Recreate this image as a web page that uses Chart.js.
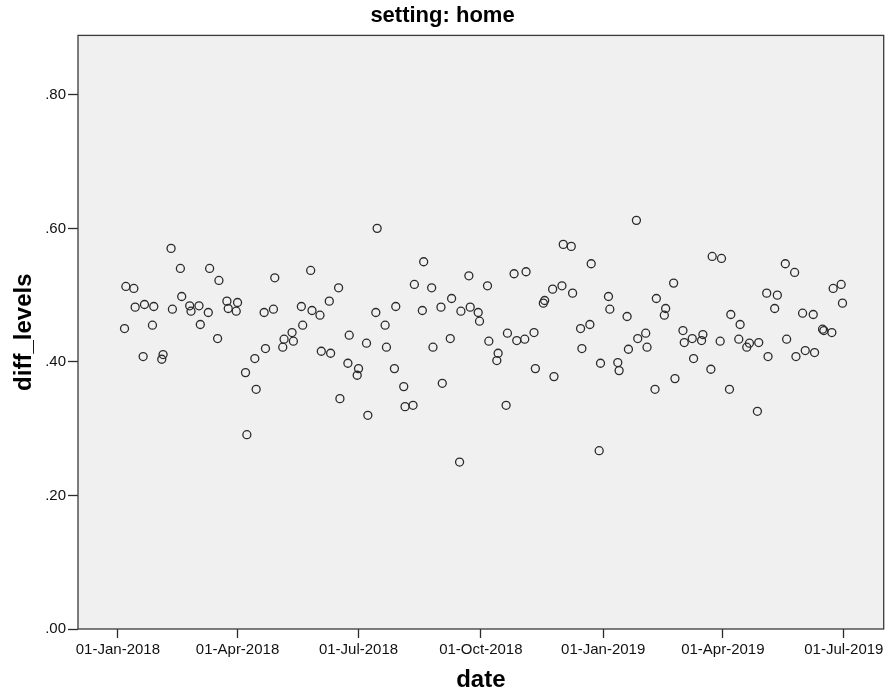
<!DOCTYPE html>
<html>
<head>
<meta charset="utf-8">
<title>setting: home</title>
<script src="https://cdn.jsdelivr.net/npm/chart.js@4/dist/chart.umd.min.js"></script>
<style>
    body { margin: 0; background: #ffffff; }
    #diffChart { display: block; }
</style>
</head>
<body>
<canvas id="diffChart" width="889" height="696"></canvas>
<script>
// days since 01-Jan-2018
const days = [
    5, 6, 12, 13, 19, 20, 26, 27, 33, 34,
    40, 41, 47, 48, 54, 55, 61, 62, 68, 69,
    75, 76, 82, 83, 89, 90, 96, 97, 103, 104,
    110, 111, 117, 118, 124, 125, 131, 132, 138, 139,
    145, 146, 152, 153, 159, 160, 166, 167, 173, 174,
    180, 181, 187, 188, 194, 195, 201, 202, 208, 209,
    215, 216, 222, 223, 229, 230, 236, 237, 243, 244,
    250, 251, 257, 258, 264, 265, 271, 272, 278, 279,
    285, 286, 292, 293, 298, 300, 306, 307, 313, 314,
    320, 321, 327, 328, 334, 335, 341, 342, 348, 349,
    355, 356, 362, 363, 369, 370, 376, 377, 383, 384,
    390, 391, 397, 398, 404, 405, 411, 412, 418, 419,
    425, 426, 432, 433, 439, 440, 446, 447, 453, 454,
    460, 461, 467, 468, 473, 475, 481, 482, 488, 489,
    494, 496, 502, 503, 509, 510, 515, 517, 523, 524,
    530, 531, 537, 538, 544, 545
];
// diff_levels
const levels = [
    .450, .513, .510, .482, .408, .486, .455, .483, .404, .411,
    .570, .479, .540, .498, .484, .476, .484, .456, .474, .540,
    .435, .522, .491, .480, .476, .489, .384, .291, .405, .359,
    .474, .420, .479, .526, .422, .434, .444, .431, .483, .455,
    .537, .477, .470, .416, .491, .413, .511, .345, .398, .440,
    .380, .390, .428, .320, .474, .600, .455, .422, .390, .483,
    .363, .333, .335, .516, .477, .550, .511, .422, .482, .368,
    .435, .495, .250, .476, .529, .482, .474, .461, .514, .431,
    .402, .413, .335, .443, .532, .432, .434, .535, .444, .390,
    .488, .492, .509, .378, .514, .576, .573, .503, .450, .420,
    .456, .547, .267, .398, .498, .479, .399, .387, .468, .419,
    .612, .435, .443, .422, .359, .495, .470, .480, .518, .375,
    .447, .429, .435, .405, .432, .441, .389, .558, .431, .555,
    .359, .471, .434, .456, .422, .428, .326, .429, .503, .408,
    .480, .500, .547, .434, .534, .408, .473, .417, .471, .414,
    .449, .447, .444, .510, .516, .488
];
// x axis ticks
const tickDays = [0, 90, 181, 273, 365, 455, 546];
const tickLabels = ['01-Jan-2018', '01-Apr-2018', '01-Jul-2018', '01-Oct-2018', '01-Jan-2019', '01-Apr-2019', '01-Jul-2019'];
// y axis ticks
const yTicks = [0, 0.2, 0.4, 0.6, 0.8];

const fontFamily = '"Liberation Sans", Arial, sans-serif';
const ink = '#2b2b2b';

// 繪圖區背景與外框
const framePlugin = {
    id: 'frame',
    beforeDatasetsDraw(chart) {
        const a = chart.chartArea;
        const ctx = chart.ctx;
        ctx.save();
        ctx.fillStyle = '#f0f0f0';
        ctx.fillRect(a.left, a.top, a.right - a.left, a.bottom - a.top);
        ctx.restore();
    },
    afterDatasetsDraw(chart) {
        const a = chart.chartArea;
        const ctx = chart.ctx;
        ctx.save();
        ctx.strokeStyle = '#3a3a3a';
        ctx.lineWidth = 1.3;
        ctx.strokeRect(a.left, a.top, a.right - a.left, a.bottom - a.top);
        ctx.restore();
    }
};

const scatterData = {
    datasets: [
        {
            label: 'diff_levels',
            data: days.map((d, i) => ({ x: d, y: levels[i] })),
            pointStyle: 'circle',
            pointRadius: 4,
            pointHoverRadius: 4,
            pointBorderWidth: 1.3,
            pointBorderColor: ink,
            pointBackgroundColor: 'rgba(0,0,0,0)',
            showLine: false
        }
    ]
};

const scatterOptions = {
    responsive: false,
    animation: false,
    layout: {
        padding: { left: 0, right: 4, top: 0, bottom: 0 }
    },
    plugins: {
        legend: { display: false },
        tooltip: { enabled: false },
        title: {
            display: true,
            text: 'setting: home',
            color: '#000',
            font: { family: fontFamily, size: 22, weight: 'bold' },
            padding: { top: 3, bottom: 6 }
        }
    },
    scales: {
        x: {
            type: 'linear',
            min: -30,
            max: 576,
            afterBuildTicks(scale) {
                scale.ticks = tickDays.map(v => ({ value: v }));
            },
            afterFit(scale) {
                scale.height = 67;
                scale.paddingLeft = 0;
                scale.paddingRight = 0;
            },
            border: { display: false },
            grid: {
                drawOnChartArea: false,
                drawTicks: true,
                tickLength: 9,
                tickColor: ink,
                tickWidth: 1.3
            },
            ticks: {
                autoSkip: false,
                maxRotation: 0,
                padding: 3,
                color: '#111',
                font: { family: fontFamily, size: 15 },
                callback: function (value) {
                    const i = tickDays.indexOf(value);
                    return i >= 0 ? tickLabels[i] : '';
                }
            },
            title: {
                display: true,
                text: 'date',
                color: '#000',
                font: { family: fontFamily, size: 24, weight: 'bold' },
                padding: { top: 0, bottom: 1 }
            }
        },
        y: {
            type: 'linear',
            min: 0,
            max: 0.889,
            afterBuildTicks(scale) {
                scale.ticks = yTicks.map(v => ({ value: v }));
            },
            afterFit(scale) {
                scale.width = 78;
                scale.paddingTop = 0;
                scale.paddingBottom = 0;
            },
            border: { display: false },
            grid: {
                drawOnChartArea: false,
                drawTicks: true,
                tickLength: 10,
                tickColor: ink,
                tickWidth: 1.3
            },
            ticks: {
                padding: 2,
                color: '#111',
                font: { family: fontFamily, size: 15 },
                callback: function (value) {
                    return value.toFixed(2).replace(/^0/, '');
                }
            },
            title: {
                display: true,
                text: 'diff_levels',
                color: '#000',
                font: { family: fontFamily, size: 24, weight: 'bold' },
                padding: { top: 10, bottom: 0 }
            }
        }
    }
};

const diffChart = new Chart(
    document.getElementById('diffChart'),
    {
        type: 'scatter',
        data: scatterData,
        options: scatterOptions,
        plugins: [framePlugin]
    }
);
</script>
</body>
</html>
